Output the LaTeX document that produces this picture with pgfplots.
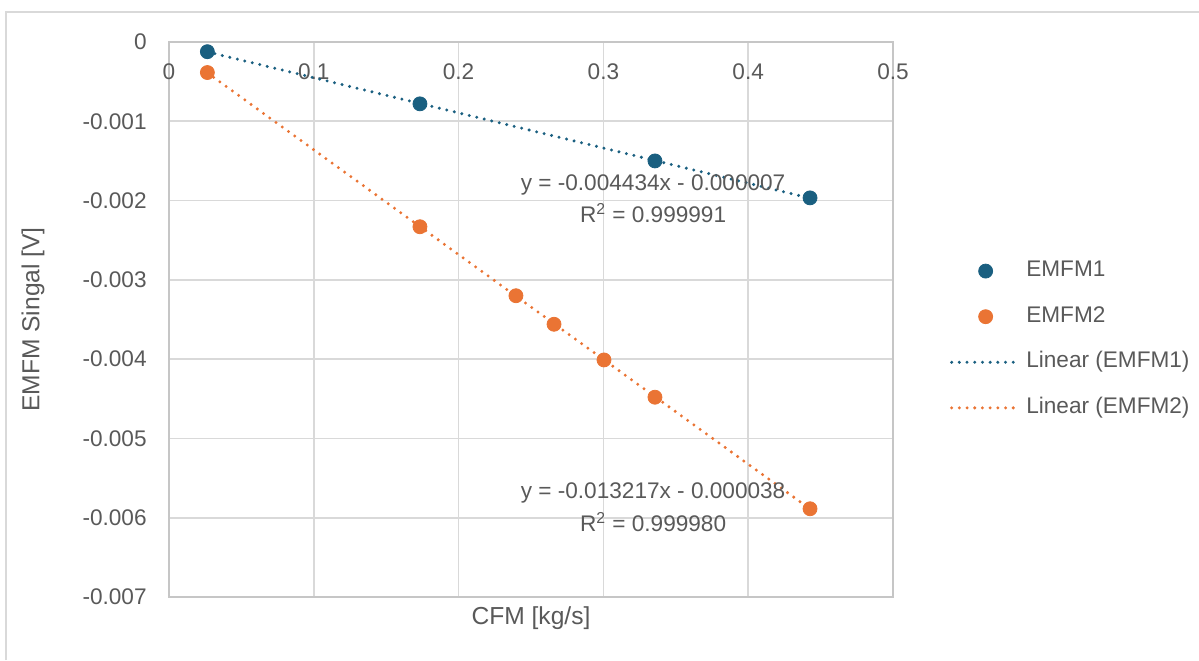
\documentclass[border=0pt]{standalone}
\usepackage{fontspec}
\setmainfont{Liberation Sans}
\usepackage{pgfplots}
\pgfplotsset{compat=1.18}

\definecolor{emfmA}{HTML}{1A5F80}
\definecolor{emfmB}{HTML}{EA7434}
\definecolor{txt}{HTML}{595959}
\definecolor{gridc}{HTML}{D9D9D9}
\definecolor{axc}{HTML}{C6C6C6}

\begin{document}
\fontsize{11.3}{13}\selectfont
\begin{tikzpicture}
% page = 1199 x 660 px at 0.5pt per px
\useasboundingbox (0,0) rectangle (599.5pt,330pt);
\draw[gridc, line width=0.9pt] (3pt,0) -- (3pt,324pt) -- (599.5pt,324pt);

\begin{axis}[
  at={(84.5pt,31.5pt)}, anchor=south west,
  scale only axis,
  width=362pt, height=277.5pt,
  xmin=0, xmax=0.5,
  ymin=-0.007, ymax=0,
  xtick={0,0.1,0.2,0.3,0.4,0.5},
  xticklabels={0,0.1,0.2,0.3,0.4,0.5},
  ytick={0,-0.001,-0.002,-0.003,-0.004,-0.005,-0.006,-0.007},
  yticklabels={0,-0.001,-0.002,-0.003,-0.004,-0.005,-0.006,-0.007},
  scaled ticks=false,
  major tick length=0pt,
  xticklabel pos=upper,
  xticklabel style={anchor=center, yshift=-15pt, text=txt},
  yticklabel style={anchor=east, inner sep=0pt, xshift=-11pt, text=txt},
  grid=major,
  major grid style={gridc, line width=0.8pt},
  axis line style={axc, line width=0.8pt},
  xlabel={CFM [kg/s]},
  ylabel={EMFM Singal [V]},
  label style={font=\fontsize{12.3}{14}\selectfont},
  xlabel style={at={(axis description cs:0.5,-0.0378)}, anchor=center, text=txt},
  ylabel style={at={(axis description cs:-0.1878,0.5)}, anchor=center, rotate=0, text=txt},
  legend image code/.code={\draw[mark repeat=2,mark phase=2,#1] plot coordinates {(0pt,0pt) (17pt,0pt) (34pt,0pt)};},
  legend style={draw=none, fill=none, inner sep=0pt, outer sep=0pt,
    at={(axis description cs:1.0787,0.464)}, anchor=west,
    row sep=7.3pt,
    nodes={text=txt, inner sep=2.5pt, text height=8pt, text depth=2.5pt}},
  legend cell align=left,
  clip=false,
]
\addplot[only marks, mark=*, mark size=3.5pt, color=emfmA] coordinates {
  (0.0265,-0.000122) (0.1733,-0.00078) (0.3356,-0.00150) (0.4427,-0.001966)};
\addlegendentry{EMFM1}
\addplot[only marks, mark=*, mark size=3.5pt, color=emfmB] coordinates {
  (0.0265,-0.000385) (0.1733,-0.00233) (0.2396,-0.00320) (0.2659,-0.00356)
  (0.3004,-0.00401) (0.3356,-0.00448) (0.4427,-0.005887)};
\addlegendentry{EMFM2}
\addplot[no marks, emfmA, line width=1.65pt, line cap=round, dash pattern=on 0pt off 3.85pt] coordinates {
  (0.0265,-0.0001245) (0.4427,-0.001970)};
\addlegendentry{Linear (EMFM1)}
\addplot[no marks, emfmB, line width=1.65pt, line cap=round, dash pattern=on 0pt off 3.85pt] coordinates {
  (0.0265,-0.0003883) (0.4427,-0.005889)};
\addlegendentry{Linear (EMFM2)}

\node[text=txt, inner sep=0pt] at (axis cs:0.3343,-0.0018036) {y = -0.004434x - 0.000007};
\node[text=txt, inner sep=0pt] at (axis cs:0.3343,-0.002157) {R\textsuperscript{2} = 0.999991};
\node[text=txt, inner sep=0pt] at (axis cs:0.3343,-0.005688) {y = -0.013217x - 0.000038};
\node[text=txt, inner sep=0pt] at (axis cs:0.3343,-0.006054) {R\textsuperscript{2} = 0.999980};
\end{axis}
\end{tikzpicture}
\end{document}
